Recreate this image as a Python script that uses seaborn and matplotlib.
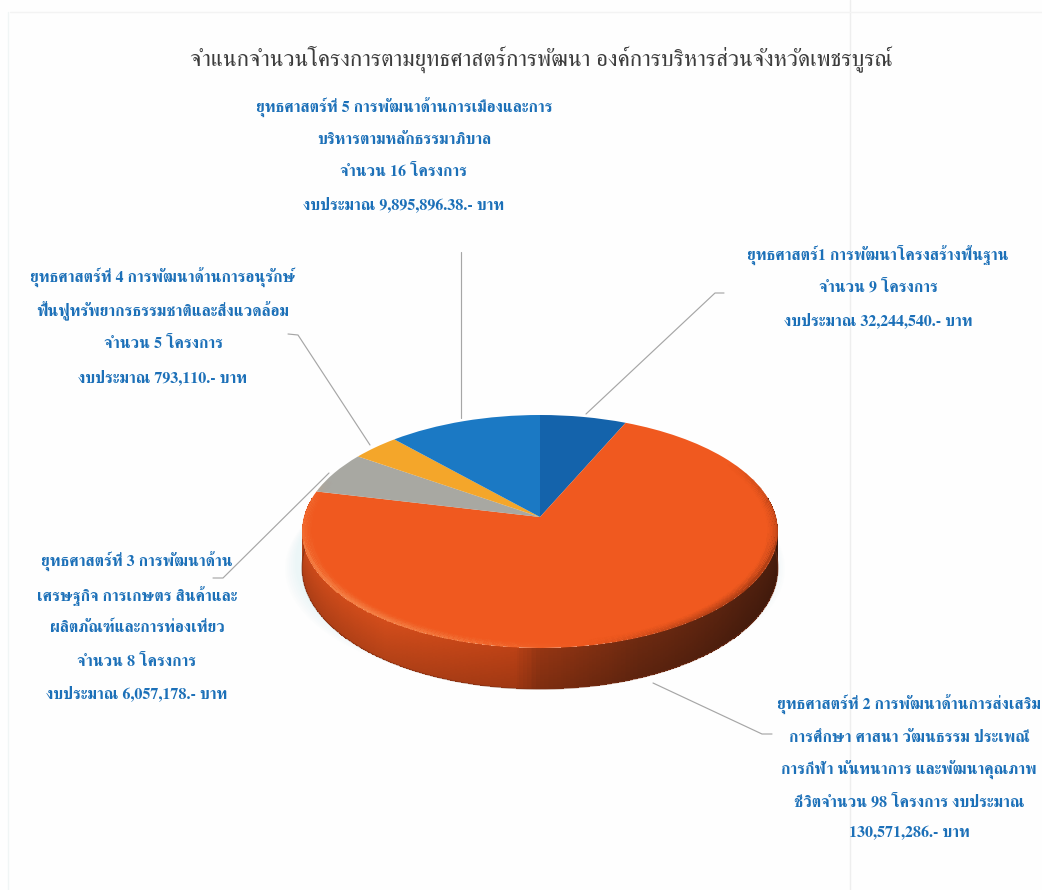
import numpy as np
import matplotlib
matplotlib.use("Agg")
import matplotlib.pyplot as plt
import matplotlib.transforms as mtransforms
from matplotlib.colors import LinearSegmentedColormap, to_rgb
import seaborn as sns

# ---------- data ----------
project_counts = [9, 98, 8, 5, 16]
slice_colors = ["#1463ab", "#f0591f", "#a8a8a2", "#f4a62a", "#1b79c4"]
title_text = "จำแนกจำนวนโครงการตามยุทธศาสตร์การพัฒนา องค์การบริหารส่วนจังหวัดเพชรบูรณ์"
label_s1 = ["ยุทธศาสตร์1 การพัฒนาโครงสร้างพื้นฐาน", "จำนวน 9 โครงการ", "งบประมาณ 32,244,540.- บาท"]
label_s2 = ["ยุทธศาสตร์ที่ 2 การพัฒนาด้านการส่งเสริม", "การศึกษา ศาสนา วัฒนธรรม ประเพณี",
            "การกีฬา นันทนาการ และพัฒนาคุณภาพ", "ชีวิตจำนวน 98 โครงการ งบประมาณ", "130,571,286.- บาท"]
label_s3 = ["ยุทธศาสตร์ที่ 3 การพัฒนาด้าน", "เศรษฐกิจ การเกษตร สินค้าและ",
            "ผลิตภัณฑ์และการท่องเที่ยว", "จำนวน 8 โครงการ", "งบประมาณ 6,057,178.- บาท"]
label_s4 = ["ยุทธศาสตร์ที่ 4 การพัฒนาด้านการอนุรักษ์", "ฟื้นฟูทรัพยากรธรรมชาติและสิ่งแวดล้อม",
            "จำนวน 5 โครงการ", "งบประมาณ 793,110.- บาท"]
label_s5 = ["ยุทธศาสตร์ที่ 5 การพัฒนาด้านการเมืองและการ", "บริหารตามหลักธรรมาภิบาล",
            "จำนวน 16 โครงการ", "งบประมาณ 9,895,896.38.- บาท"]

sns.set_theme(style="white")
FONT = ["FreeSerif", "Noto Serif Thai", "DejaVu Serif"]
plt.rcParams["font.family"] = FONT

W, H = 1042, 890
fig = plt.figure(figsize=(W / 100, H / 100), dpi=100, facecolor="#fefefe")
ax = fig.add_axes([0, 0, 1, 1])

# perspective camera: unit disc -> picture pixels
CX, CY, C, EX, EY = 540.0, 517.0, 0.1245, 236.1, 114.7
DEPTH = 36.0


class Perspective(mtransforms.Transform):
    input_dims = output_dims = 2
    is_separable = False
    has_inverse = False

    def transform_non_affine(self, v):
        v = np.asarray(v, float)
        w = 1 + C * v[:, 1]
        return np.column_stack([CX + EX * v[:, 0] / w, CY - EY * v[:, 1] / w])


persp = Perspective()


def project(x, y):
    w = 1 + C * y
    return CX + EX * x / w, CY - EY * y / w


wedges, _ = ax.pie(project_counts, colors=slice_colors, startangle=90,
                   counterclock=False, radius=1, center=(0, 0),
                   wedgeprops=dict(linewidth=0))
ax.set_aspect("auto")
ax.set_xlim(0, W)
ax.set_ylim(H, 0)
ax.axis("off")
for w in wedges:
    w.set_transform(persp + ax.transData)
    w.set_zorder(3)

# soft halo beneath the disc
t = np.linspace(0, 2 * np.pi, 240)
hx, hy = project(np.cos(t), np.sin(t))
for grow in np.linspace(12, 2, 6):
    ax.fill(CX - 5 + (hx - CX) * (1 + grow / 240), hy + 30 + grow * 0.6,
            color="#bfe3e6", alpha=0.045, lw=0, zorder=0.5)

# side wall
cmap = LinearSegmentedColormap.from_list("wall", [
    (0.00, "#bd4418"), (0.30, "#cb4a1a"), (0.47, "#b53f15"), (0.50, "#8f3312"),
    (0.62, "#692810"), (0.80, "#4e1f0e"), (1.00, "#421a0b")])
tt = np.radians(np.linspace(-190, 10, 501))
vv = np.linspace(0, 1, 25)
ex, ey = project(np.cos(tt), np.sin(tt))
dep = DEPTH / (1 + C * np.sin(tt))
X = np.tile(ex, (len(vv), 1))
Y = ey[None, :] + vv[:, None] * dep[None, :]
tm = 0.5 * (tt[:-1] + tt[1:])
um = np.clip((np.degrees(tm) + 180) / 180, 0, 1)
base = cmap(um)[:, :3]
vm = 0.5 * (vv[:-1] + vv[1:])
shade = 1.04 - 0.16 * vm
rgb = np.clip(base[None, :, :] * shade[:, None, None], 0, 1)
ax.pcolormesh(X, Y, rgb, shading="flat", zorder=2, antialiased=False, linewidth=0)
ax.plot(ex, ey + dep, color="#7a3016", lw=0.9, alpha=0.55, zorder=2.1)

# bevel along the rim of the top face
rr = np.linspace(0.955, 1.0, 8)
tb = np.radians(np.linspace(-200, 30, 461))
XB = np.zeros((len(rr), len(tb)))
YB = np.zeros_like(XB)
for i, r in enumerate(rr):
    XB[i], YB[i] = project(r * np.cos(tb), r * np.sin(tb))
tbm = np.degrees(0.5 * (tb[:-1] + tb[1:]))
rgba = np.zeros((len(rr) - 1, len(tb) - 1, 4))
for j, d in enumerate(tbm):
    u = (d + 180) / 180
    if u < 0.55:
        col, a = to_rgb("#f7955a"), 0.45 * np.sin(np.pi * (u + 0.11) / 0.66) ** 1.0
    else:
        col, a = to_rgb("#8a3010"), 0.45 * np.sin(np.pi * (u - 0.55) / 0.62)
    for i in range(len(rr) - 1):
        rgba[i, j] = (*col, max(a, 0) * ((i + 1) / (len(rr) - 1)) ** 1.5)
ax.pcolormesh(XB, YB, rgba, shading="flat", zorder=3.5, antialiased=False, linewidth=0)

# leader lines
leaders = [
    ([586, 715, 724], [414, 293, 293]),
    ([461, 461], [418, 252]),
    ([370, 298, 288], [445, 335, 334]),
    ([329, 223, 213], [473, 578, 578]),
    ([653, 762, 772], [683, 734, 734]),
]
for lx, ly in leaders:
    ax.plot(lx, ly, color="#a6a6a6", lw=0.85, zorder=4, solid_capstyle="round")

# faint scan lines
ax.plot([850, 850], [0, H], color="#eeeeee", lw=1, zorder=0.2)
ax.plot([10, W], [12, 12], color="#f3f3f3", lw=1, zorder=0.2)
ax.plot([8, 8], [12, H], color="#f0f5f5", lw=1, zorder=0.2)

# text
ax.text(541, 59, title_text, ha="center", va="center", color="#3c3c3c",
        fontsize=16.6, family=FONT, zorder=6)


def block(lines, cx, ys):
    for s, y in zip(lines, ys):
        ax.text(cx, y, s, ha="center", va="center", color="#1c70b8",
                fontsize=11.5, fontweight="bold", family=FONT, zorder=6)


block(label_s5, 404, [108, 140, 172, 204])
block(label_s4, 163, [278, 311, 344, 377])
block(label_s1, 878, [255, 287, 320])
block(label_s3, 137, [562, 596, 628, 662, 693])
block(label_s2, 909, [705, 738, 770, 802, 833])

fig.savefig("out.png", dpi=100, facecolor=fig.get_facecolor())
